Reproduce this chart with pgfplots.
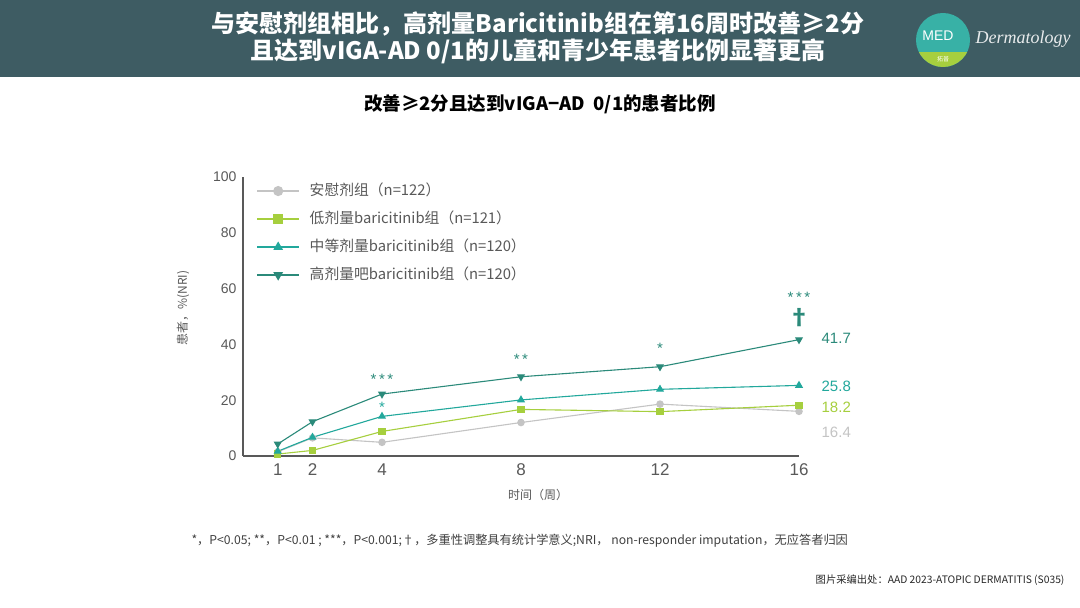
\documentclass[border=0pt]{standalone}
\usepackage{fontspec}
\setmainfont{Noto Sans CJK SC}
\newfontfamily\latinfont{Liberation Sans}
\newfontfamily\logofont{Liberation Serif}
\usepackage{pgfplots}
\pgfplotsset{compat=1.18}
\definecolor{hdr}{HTML}{3E5C63}
\definecolor{cpla}{HTML}{C4C4C4}
\definecolor{clow}{HTML}{A6CF3E}
\definecolor{cmed}{HTML}{22A89C}
\definecolor{chigh}{HTML}{2B8A7A}
\definecolor{txt}{HTML}{595959}
\begin{document}
\begin{tikzpicture}[x=1pt,y=1pt]
\fill[white] (0,0) rectangle (1080,608);
% header
\fill[hdr] (0,531) rectangle (1080,608);
\node[text=white,font=\fontsize{24}{28}\selectfont\bfseries] at (538,584) {与安慰剂组相比，高剂量Baricitinib组在第16周时改善≥2分};
\node[text=white,font=\fontsize{24}{28}\selectfont\bfseries] at (538,557) {且达到vIGA-AD 0/1的儿童和青少年患者比例显著更高};
% logo
\begin{scope}
\clip (943,568) circle (27);
\fill[cmed!90!white] (916,541) rectangle (970,595);
\fill[clow] (916,541) rectangle (970,556);
\end{scope}
\node[text=white,font=\fontsize{14}{14}\selectfont\latinfont] at (938,572) {MED};
\node[text=white,font=\fontsize{6}{6}\selectfont] at (943,549) {拓普};
\node[text=white!88!hdr,font=\fontsize{18}{18}\selectfont\logofont\itshape] at (1023,569) {Dermatology};
% chart title
\node[font=\fontsize{18.5}{20}\selectfont\bfseries] at (540,504) {改善≥2分且达到vIGA−AD\ \ 0/1的患者比例};
% axis labels
\node[rotate=90,text=txt,font=\fontsize{12}{13}\selectfont] at (183,300) {患者，\%(NRI)};
\node[text=txt,font=\fontsize{12}{13}\selectfont] at (538,113) {时间（周）};
\begin{axis}[
  at={(243pt,152pt)}, anchor=south west,
  scale only axis, width=556pt, height=279pt,
  xmin=0, xmax=16, ymin=0, ymax=100,
  axis lines=left, axis line style={-, draw=txt, line width=1.3pt},
  xtick={1,2,4,8,12,16}, ytick={0,20,40,60,80,100},
  major tick length=0pt,
  /pgf/number format/assume math mode=true,
  yticklabel style={font=\fontsize{14}{16}\selectfont\latinfont, text=txt, xshift=-3pt},
  xticklabel style={font=\fontsize{17}{18}\selectfont\latinfont, text=txt, yshift=-4pt},
  clip=false,
  legend cell align=left,
  legend style={at={(axis cs:0.3,98.8)}, anchor=north west, draw=none, fill=none,
    font=\fontsize{14.8}{16}\selectfont, text=txt, row sep=11pt,
    nodes={inner sep=1pt, text depth=3pt, text height=12pt}},
  legend image code/.code={\draw[mark repeat=2,mark phase=2,mark size=4.5pt] plot coordinates {(0pt,0pt) (21pt,0pt) (42pt,0pt)};\path (51pt,0pt);},
]
\addplot[color=cpla, line width=1.1pt, mark=*, mark size=3.2pt, mark options={fill=cpla,draw=cpla}]
  coordinates {(1,1.5) (2,6.5) (4,4.9) (8,12.0) (12,18.6) (16,16.0)};
\addlegendentry{安慰剂组（n=122）}
\addplot[color=clow, line width=1.1pt, mark=square*, mark size=3pt, mark options={fill=clow,draw=clow}]
  coordinates {(1,0.7) (2,2.0) (4,8.8) (8,16.7) (12,15.9) (16,18.2)};
\addlegendentry{低剂量baricitinib组（n=121）}
\addplot[color=cmed, line width=1.1pt, mark=triangle*, mark size=3.6pt, mark options={fill=cmed,draw=cmed}]
  coordinates {(1,1.7) (2,6.7) (4,14.2) (8,20.1) (12,23.9) (16,25.3)};
\addlegendentry{中等剂量baricitinib组（n=120）}
\addplot[color=chigh, line width=1.1pt, mark=triangle*, mark size=3.6pt, mark options={fill=chigh,draw=chigh,rotate=180}]
  coordinates {(1,4.3) (2,12.3) (4,22.2) (8,28.4) (12,32.0) (16,41.7)};
\addlegendentry{高剂量吧baricitinib组（n=120）}
% significance
\node[text=chigh,font=\fontsize{15}{15}\selectfont\latinfont] at (axis cs:4,27.5) {*\,*\,*};
\node[text=cmed,font=\fontsize{15}{15}\selectfont\latinfont] at (axis cs:4,17.5) {*};
\node[text=chigh,font=\fontsize{15}{15}\selectfont\latinfont] at (axis cs:8,34.5) {*\,*};
\node[text=chigh,font=\fontsize{15}{15}\selectfont\latinfont] at (axis cs:12,38.5) {*};
\node[text=chigh,font=\fontsize{15}{15}\selectfont\latinfont] at (axis cs:16,57) {*\,*\,*};
\node[text=chigh,font=\fontsize{22}{22}\selectfont\bfseries] at (axis cs:16,49.5) {†};
% end values
\node[anchor=west,text=chigh,font=\fontsize{15}{16}\selectfont\latinfont] at (axis cs:16.55,42.2) {41.7};
\node[anchor=west,text=cmed,font=\fontsize{15}{16}\selectfont\latinfont] at (axis cs:16.55,25.0) {25.8};
\node[anchor=west,text=clow,font=\fontsize{15}{16}\selectfont\latinfont] at (axis cs:16.55,17.5) {18.2};
\node[anchor=west,text=cpla,font=\fontsize{15}{16}\selectfont\latinfont] at (axis cs:16.55,8.5) {16.4};
\end{axis}
% footnotes
\node[anchor=west,text=black!75,font=\fontsize{12.2}{14}\selectfont] at (188,67) {*，P<0.05; **，P<0.01 ; ***，P<0.001;†，多重性调整具有统计学意义;NRI， non-responder imputation，无应答者归因};
\node[anchor=east,text=black!85,font=\fontsize{10.3}{13}\selectfont] at (1068,28) {图片采编出处：AAD 2023-ATOPIC DERMATITIS (S035)};
\end{tikzpicture}
\end{document}
